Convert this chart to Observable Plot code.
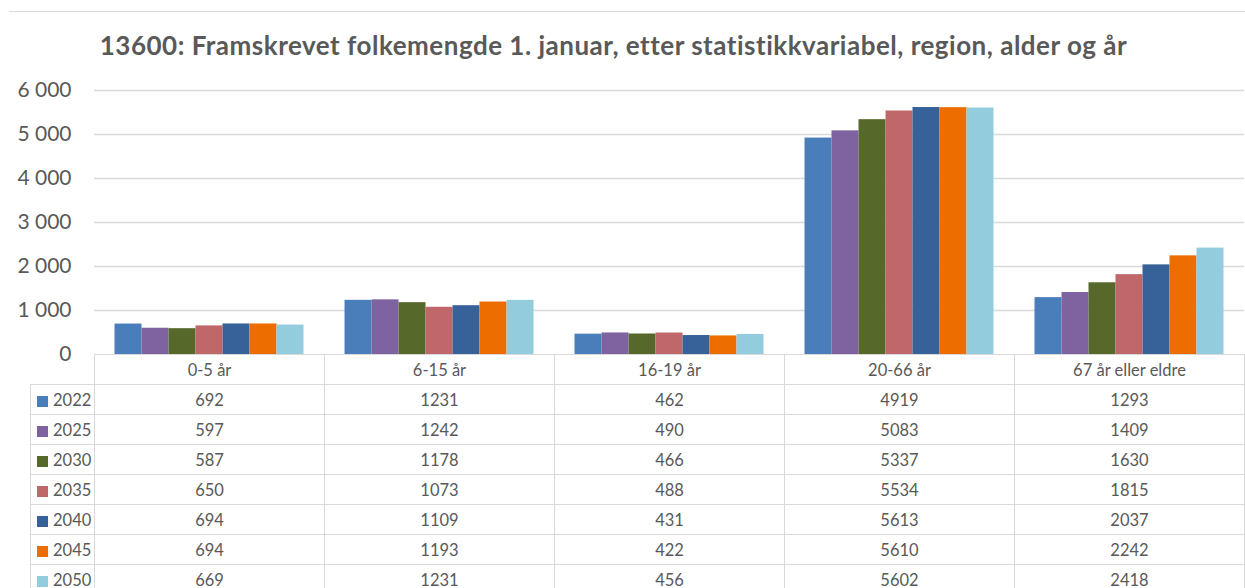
<!DOCTYPE html>
<html>
<head>
<meta charset="utf-8">
<script src="https://cdn.jsdelivr.net/npm/d3@7"></script>
<script src="https://cdn.jsdelivr.net/npm/@observablehq/plot@0.6"></script>
<style>
  html, body { margin: 0; padding: 0; background: #fff; }
  body { width: 1245px; height: 588px; overflow: hidden; position: relative; font-family: Lato, "Open Sans", sans-serif; color: #595959; }
  #topline { position: absolute; left: 9px; right: 0; top: 11px; height: 0; border-top: 1px solid #d9d9d9; }
  #title { position: absolute; left: -9px; width: 1245px; top: 30px; line-height: 30px; text-align: center; font-size: 26px; letter-spacing: 0.5px; font-weight: bold; color: #595959; }
  #chart { position: absolute; left: 0; top: 70px; }
  #table { position: absolute; left: 30px; top: 354px; border-collapse: collapse; table-layout: fixed; background: transparent; }
  #table td { border: 1px solid #d9d9d9; height: 29px; padding: 0; text-align: center; font-size: 16.5px; color: #595959; white-space: nowrap; }
  #table td.empty { border: none; border-bottom: 1px solid #d9d9d9; }
  #table td.key { text-align: left; padding-left: 6px; }
  .sw { display: inline-block; width: 11px; height: 11px; margin-right: 5px; vertical-align: -1px; }
</style>
</head>
<body>
<div id="topline"></div>
<div id="title"></div>
<div id="chart"></div>
<table id="table"></table>
<script>
const title = "13600: Framskrevet folkemengde 1. januar, etter statistikkvariabel, region, alder og år";
const categories = ["0-5 år", "6-15 år", "16-19 år", "20-66 år", "67 år eller eldre"];
const years = ["2022", "2025", "2030", "2035", "2040", "2045", "2050"];
const colors = ["#4a7ebb", "#7f63a0", "#56692b", "#c0676a", "#366299", "#ed6d00", "#93cddd"];
const v2022 = [692, 1231, 462, 4919, 1293];
const v2025 = [597, 1242, 490, 5083, 1409];
const v2030 = [587, 1178, 466, 5337, 1630];
const v2035 = [650, 1073, 488, 5534, 1815];
const v2040 = [694, 1109, 431, 5613, 2037];
const v2045 = [694, 1193, 422, 5610, 2242];
const v2050 = [669, 1231, 456, 5602, 2418];
const yTicks = [0, 1000, 2000, 3000, 4000, 5000, 6000];

const series = [v2022, v2025, v2030, v2035, v2040, v2045, v2050];
const data = [];
years.forEach((yr, i) => categories.forEach((c, j) => data.push({cat: c, year: yr, value: series[i][j]})));

document.getElementById("title").textContent = title;

const fmt = d => d3.format(",")(d).replace(/,/g, " ");

const plot = Plot.plot({
  width: 1245,
  height: 296,
  marginTop: 20,
  marginBottom: 12,
  marginLeft: 94,
  marginRight: 1,
  style: {fontFamily: "Lato, 'Open Sans', sans-serif", color: "#595959", background: "transparent", overflow: "visible"},
  fx: {domain: categories, padding: 0, round: false, axis: null},
  x: {domain: years, paddingInner: 0, paddingOuter: 0.76, round: false, axis: null},
  y: {domain: [0, 6000]},
  color: {domain: years, range: colors},
  marks: [
    Plot.ruleY(yTicks.filter(d => d > 0), {stroke: "#d9d9d9", strokeWidth: 1.3}),
    Plot.barY(data, {fx: "cat", x: "year", y: "value", fill: "year"}),
    Plot.axisY({ticks: yTicks, tickSize: 0, tickPadding: 23, tickFormat: fmt, fontSize: 21, color: "#595959", label: null})
  ]
});
document.getElementById("chart").appendChild(plot);

// data table
const table = document.getElementById("table");
const colg = document.createElement("colgroup");
[64, 230, 230, 230, 230, 230].forEach(w => { const c = document.createElement("col"); c.style.width = w + "px"; colg.appendChild(c); });
table.appendChild(colg);
const head = document.createElement("tr");
const e = document.createElement("td"); e.className = "empty"; head.appendChild(e);
categories.forEach(c => { const td = document.createElement("td"); td.textContent = c; head.appendChild(td); });
table.appendChild(head);
years.forEach((yr, i) => {
  const tr = document.createElement("tr");
  const k = document.createElement("td"); k.className = "key";
  const sw = document.createElement("span"); sw.className = "sw"; sw.style.background = colors[i];
  k.appendChild(sw); k.appendChild(document.createTextNode(yr));
  tr.appendChild(k);
  series[i].forEach(v => { const td = document.createElement("td"); td.textContent = v; tr.appendChild(td); });
  table.appendChild(tr);
});
</script>
</body>
</html>
